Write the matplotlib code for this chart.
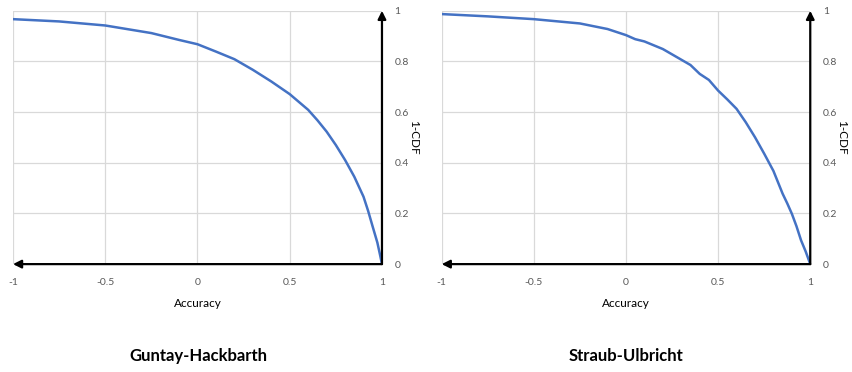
import matplotlib.pyplot as plt

plt.rcParams['font.family'] = ['Lato', 'DejaVu Sans']

# accuracy values and 1-CDF
gh_acc = [-1, -0.75, -0.5, -0.25, -0.1, 0, 0.1, 0.2, 0.3, 0.4, 0.5, 0.6, 0.65, 0.7, 0.75, 0.8, 0.85, 0.9,
          0.925, 0.95, 0.975, 0.99, 1]
gh_cdf = [0.967, 0.958, 0.942, 0.912, 0.885, 0.868, 0.839, 0.809, 0.767, 0.721, 0.671, 0.609, 0.568, 0.523,
          0.470, 0.411, 0.345, 0.266, 0.210, 0.147, 0.085, 0.035, 0.0]

su_acc = [-1, -0.75, -0.5, -0.25, -0.1, 0, 0.05, 0.1, 0.2, 0.3, 0.35, 0.4, 0.45, 0.5, 0.55, 0.6, 0.65, 0.7,
          0.75, 0.8, 0.85, 0.875, 0.9, 0.925, 0.95, 0.975, 1]
su_cdf = [0.987, 0.978, 0.967, 0.950, 0.928, 0.904, 0.888, 0.879, 0.849, 0.807, 0.786, 0.751, 0.727, 0.685,
          0.650, 0.613, 0.560, 0.501, 0.436, 0.368, 0.278, 0.240, 0.199, 0.150, 0.094, 0.050, 0.0]

titles = ["Guntay-Hackbarth", "Straub-Ulbricht"]
x_ticks = [-1, -0.5, 0, 0.5, 1]
x_labels = ["-1", "-0.5", "0", "0.5", "1"]
y_ticks = [0, 0.2, 0.4, 0.6, 0.8, 1]
y_labels = ["0", "0.2", "0.4", "0.6", "0.8", "1"]

fig = plt.figure(figsize=(8.53, 3.72), dpi=100)
ax1 = fig.add_axes([0.0152, 0.290, 0.4326, 0.681])
ax2 = fig.add_axes([0.5178, 0.290, 0.4321, 0.681])

for ax, acc, cdf, title, tx in [(ax1, gh_acc, gh_cdf, titles[0], 198), (ax2, su_acc, su_cdf, titles[1], 626)]:
    ax.plot(acc, cdf, color="#4472C4", lw=1.8, zorder=3)
    ax.set_xlim(-1, 1)
    ax.set_ylim(0, 1)
    ax.set_xticks(x_ticks)
    ax.set_xticklabels(x_labels)
    ax.set_yticks(y_ticks)
    ax.set_yticklabels(y_labels)
    ax.yaxis.tick_right()
    ax.yaxis.set_label_position("right")
    ax.tick_params(length=0, labelsize=7.5, colors="#595959")
    ax.tick_params(axis="x", pad=10)
    ax.tick_params(axis="y", pad=9)
    ax.grid(True, color="#d9d9d9", lw=0.9)
    for s in ax.spines.values():
        s.set_visible(False)
    ax.set_xlabel("Accuracy", fontsize=8.5, labelpad=8)
    ax.set_ylabel("1-CDF", fontsize=8.5, rotation=270, labelpad=7)
    # black axis arrows
    ax.annotate("", xy=(-1, 0), xytext=(1, 0), arrowprops=dict(arrowstyle="-|>", color="black", lw=1.6,
                shrinkA=0, shrinkB=0, mutation_scale=12), annotation_clip=False, zorder=4)
    ax.annotate("", xy=(1, 1), xytext=(1, 0), arrowprops=dict(arrowstyle="-|>", color="black", lw=1.6,
                shrinkA=0, shrinkB=0, mutation_scale=12), annotation_clip=False, zorder=4)
    fig.text(tx / 853, 1 - 356 / 372, title, fontsize=12, fontweight="bold", ha="center", va="center")

fig.savefig("out.png", dpi=100)
